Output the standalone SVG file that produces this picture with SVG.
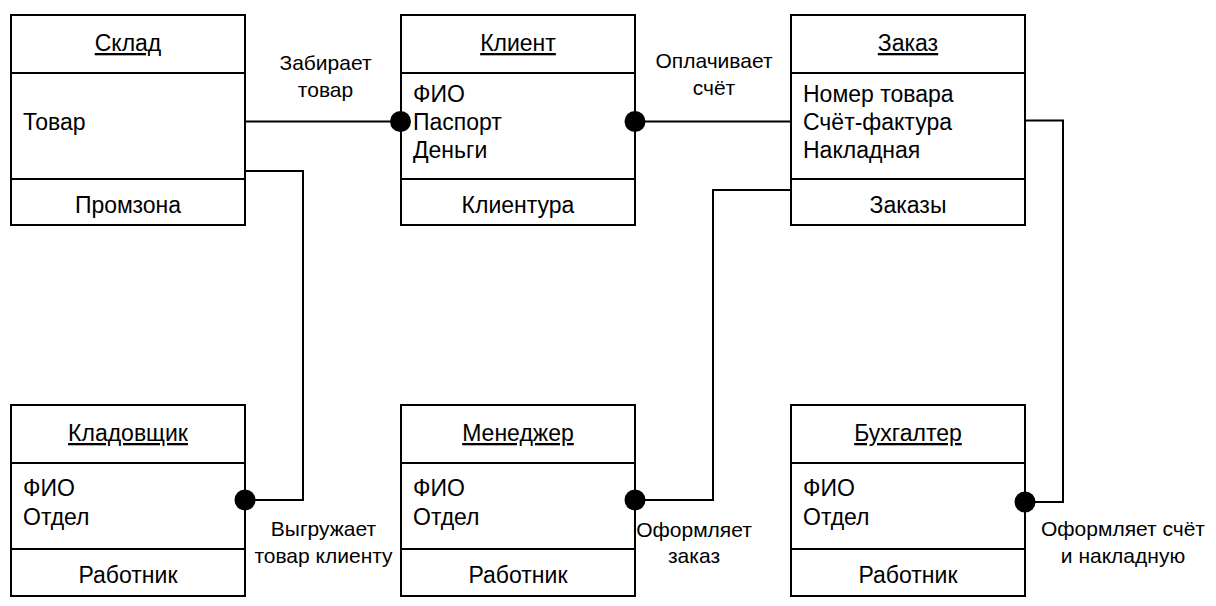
<svg xmlns="http://www.w3.org/2000/svg" width="1216" height="606" viewBox="0 0 1216 606">
<style>
.box{fill:#fff;stroke:#000;stroke-width:2}
.sep{stroke:#000;stroke-width:2}
.t{font-family:"Liberation Sans",Arial,sans-serif;font-size:23px;fill:#000}
.c{text-anchor:middle}
.u{text-decoration:underline}
.lbl{font-family:"Liberation Sans",Arial,sans-serif;font-size:21px;fill:#000;text-anchor:middle}
.con{fill:none;stroke:#000;stroke-width:2}
.dot{fill:#000}
</style>
<rect width="1216" height="606" fill="#fff"/>
<g id="sklad">
<rect class="box" x="11" y="15" width="234" height="210"/>
<line class="sep" x1="11" y1="73" x2="245" y2="73"/>
<line class="sep" x1="11" y1="179" x2="245" y2="179"/>
<text class="t c u" x="128" y="51">Склад</text>
<text class="t" x="23" y="130">Товар</text>
<text class="t c" x="128" y="213">Промзона</text>
</g>
<g id="klient">
<rect class="box" x="401" y="15" width="234" height="210"/>
<line class="sep" x1="401" y1="73" x2="635" y2="73"/>
<line class="sep" x1="401" y1="179" x2="635" y2="179"/>
<text class="t c u" x="518" y="51">Клиент</text>
<text class="t" x="413" y="102">ФИО</text>
<text class="t" x="413" y="130">Паспорт</text>
<text class="t" x="413" y="158">Деньги</text>
<text class="t c" x="518" y="213">Клиентура</text>
</g>
<g id="zakaz">
<rect class="box" x="791" y="15" width="234" height="210"/>
<line class="sep" x1="791" y1="73" x2="1025" y2="73"/>
<line class="sep" x1="791" y1="179" x2="1025" y2="179"/>
<text class="t c u" x="908" y="51">Заказ</text>
<text class="t" x="803" y="102">Номер товара</text>
<text class="t" x="803" y="130">Счёт-фактура</text>
<text class="t" x="803" y="158">Накладная</text>
<text class="t c" x="908" y="213">Заказы</text>
</g>
<g id="kladovshchik">
<rect class="box" x="11" y="405" width="234" height="191"/>
<line class="sep" x1="11" y1="463" x2="245" y2="463"/>
<line class="sep" x1="11" y1="549" x2="245" y2="549"/>
<text class="t c u" x="128" y="441">Кладовщик</text>
<text class="t" x="23" y="496">ФИО</text>
<text class="t" x="23" y="525">Отдел</text>
<text class="t c" x="128" y="583">Работник</text>
</g>
<g id="menedzher">
<rect class="box" x="401" y="405" width="234" height="191"/>
<line class="sep" x1="401" y1="463" x2="635" y2="463"/>
<line class="sep" x1="401" y1="549" x2="635" y2="549"/>
<text class="t c u" x="518" y="441">Менеджер</text>
<text class="t" x="413" y="496">ФИО</text>
<text class="t" x="413" y="525">Отдел</text>
<text class="t c" x="518" y="583">Работник</text>
</g>
<g id="bukhgalter">
<rect class="box" x="791" y="405" width="234" height="191"/>
<line class="sep" x1="791" y1="463" x2="1025" y2="463"/>
<line class="sep" x1="791" y1="549" x2="1025" y2="549"/>
<text class="t c u" x="908" y="441">Бухгалтер</text>
<text class="t" x="803" y="496">ФИО</text>
<text class="t" x="803" y="525">Отдел</text>
<text class="t c" x="908" y="583">Работник</text>
</g>
<g id="connectors">
<path class="con" d="M246,121.5 H400"/>
<circle class="dot" cx="400.5" cy="121.5" r="10.5"/>
<path class="con" d="M635,121.5 H790"/>
<circle class="dot" cx="635" cy="121.5" r="10.5"/>
<path class="con" d="M246,171 H303 V500 H245"/>
<circle class="dot" cx="245" cy="500" r="10.5"/>
<path class="con" d="M790,190 H713 V500 H635"/>
<circle class="dot" cx="635" cy="500" r="10.5"/>
<path class="con" d="M1026,120.5 H1063 V502 H1025"/>
<circle class="dot" cx="1025" cy="502" r="10.5"/>
<text class="lbl" x="325.5" y="70">Забирает</text>
<text class="lbl" x="325.5" y="97">товар</text>
<text class="lbl" x="714" y="68">Оплачивает</text>
<text class="lbl" x="714" y="95">счёт</text>
<text class="lbl" x="323.5" y="536">Выгружает</text>
<text class="lbl" x="323.5" y="563">товар клиенту</text>
<text class="lbl" x="694" y="537">Оформляет</text>
<text class="lbl" x="694" y="563">заказ</text>
<text class="lbl" x="1123" y="536">Оформляет счёт</text>
<text class="lbl" x="1123" y="563">и накладную</text>
</g>
</svg>
